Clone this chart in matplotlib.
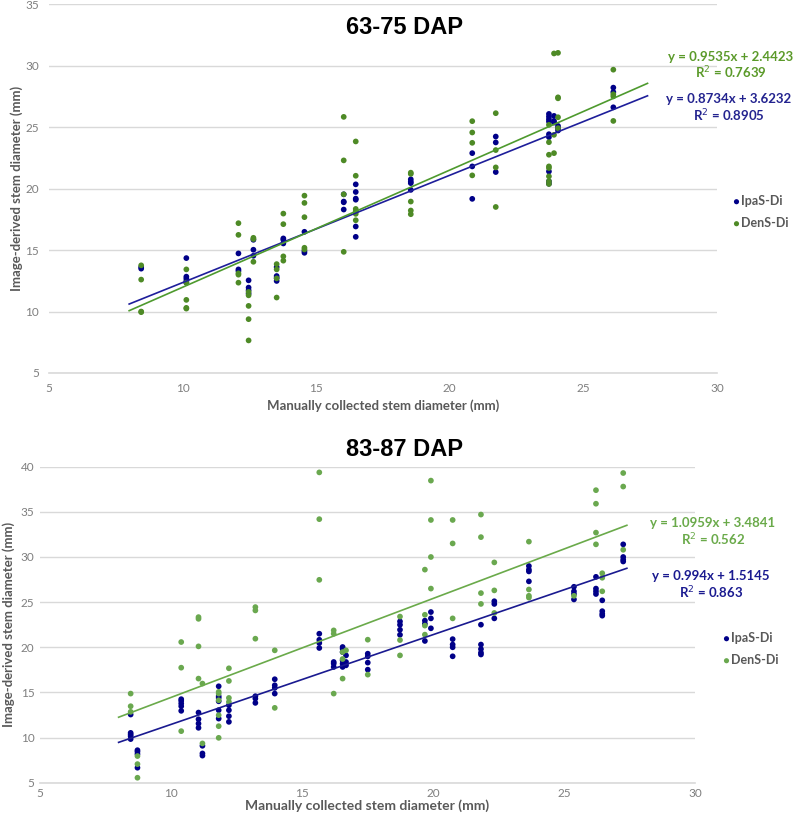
import matplotlib
matplotlib.use("Agg")
import matplotlib.pyplot as plt
import numpy as np

# ---- data: panel 1 (63-75 DAP) ----
top_x = [8.45, 10.14, 12.09, 12.47, 12.65, 13.52, 13.77, 14.56, 16.03, 16.48,
         18.54, 20.84, 21.72, 23.71, 23.9, 24.05, 26.12]
top_ipas = [
  [13.62, 13.49],
  [14.35, 12.84, 12.68, 12.49, 12.35],
  [14.73, 13.43, 13.3],
  [12.54, 11.95, 11.73, 11.46],
  [15.84, 15.03, 14.54],
  [13.62, 12.89, 12.73, 12.49],
  [15.95, 15.84, 15.54],
  [16.49, 14.92, 14.78],
  [19.54, 18.95, 18.89, 18.3],
  [20.35, 19.73, 19.19, 19.1, 16.92, 16.08],
  [20.76, 20.57, 20.45, 19.9],
  [22.89, 21.81, 19.17],
  [24.24, 23.76, 21.35],
  [26.08, 25.86, 25.65, 25.46, 24.43, 24.19, 21.4, 20.6, 20.4],
  [25.92, 25.51, 25.38],
  [25.1, 24.92, 24.73],
  [28.22, 27.86, 26.62],
]
top_dens = [
  [13.76, 12.6, 10.0, 9.95],
  [13.43, 12.35, 10.95, 10.3, 10.24],
  [17.19, 16.24, 13.11, 13.0, 12.35],
  [11.6, 11.32, 10.46, 9.38, 7.65],
  [16.0, 15.9, 14.05],
  [13.86, 13.43, 12.7, 11.14],
  [17.97, 17.11, 14.49, 14.14],
  [19.43, 18.84, 17.68, 15.19, 15.05],
  [25.84, 22.3, 19.54, 14.86],
  [23.84, 21.05, 18.35, 18.16, 17.95, 17.43],
  [21.3, 21.2, 18.95, 18.22, 17.92],
  [25.49, 24.57, 23.73, 21.08],
  [26.14, 23.14, 21.73, 18.51],
  [25.19, 23.78, 22.76, 21.81, 21.68, 21.0, 20.6, 20.38],
  [31.0, 24.38, 22.89],
  [31.05, 27.43, 27.35, 25.81, 24.92],
  [29.68, 27.68, 27.51, 25.51],
]
top_fit_ipas = (0.8734, 3.6232)
top_fit_dens = (0.9535, 2.4423)

# ---- data: panel 2 (83-87 DAP) ----
bot_x = [8.46, 8.72, 10.39, 11.05, 11.2, 11.82, 12.21, 13.22, 13.96, 15.66,
         16.21, 16.55, 16.68, 17.51, 18.74, 19.69, 19.92, 20.75, 21.83, 22.34,
         23.66, 25.38, 26.22, 26.46, 27.26]
bot_ipas = [
  [12.55, 10.52, 10.34, 10.16, 9.83],
  [8.6, 8.43, 8.17, 6.66],
  [14.25, 14.06, 13.77, 13.47, 12.96],
  [12.77, 12.03, 11.55, 11.08],
  [9.09, 8.24, 8.0],
  [15.68, 14.58, 14.39, 14.02, 13.03, 12.1],
  [13.58, 13.03, 12.37, 11.74],
  [14.58, 14.32, 13.84],
  [16.46, 15.79, 15.5, 14.87],
  [21.5, 20.83, 20.47, 19.92],
  [18.37, 18.19, 17.82],
  [20.03, 19.84, 19.47, 18.55, 18.19, 17.82],
  [19.1, 18.37, 18.0],
  [19.29, 18.99, 18.3, 17.52],
  [22.86, 22.49, 21.94, 21.38],
  [22.95, 22.6, 20.7],
  [23.9, 23.2, 22.1],
  [20.9, 20.3, 20.0, 19.0],
  [22.5, 20.3, 19.8, 19.4, 19.2],
  [25.1, 24.8, 23.2],
  [29.0, 28.6, 28.4, 27.3],
  [26.7, 26.2, 25.9, 25.3],
  [27.8, 26.5, 26.2, 25.9],
  [25.2, 24.0, 23.7, 23.5],
  [31.4, 30.0, 29.7, 29.5],
]
bot_dens = [
  [14.87, 13.47, 12.85],
  [7.95, 7.06, 5.55],
  [20.58, 17.74, 10.71],
  [23.34, 23.15, 20.1, 16.53],
  [15.98, 9.35],
  [15.06, 14.87, 14.13, 12.48, 11.26, 9.97],
  [17.67, 16.27, 14.39, 13.95],
  [24.45, 24.08, 20.95],
  [19.66, 13.29],
  [39.37, 34.19, 27.47],
  [21.87, 21.5, 14.87],
  [19.47, 18.7, 16.53],
  [19.66],
  [20.84, 16.97],
  [23.4, 20.8, 19.1],
  [28.6, 23.6, 22.4, 21.4],
  [38.46, 34.1, 30.0, 26.5],
  [34.1, 31.5, 23.2],
  [34.7, 32.2, 26.0, 24.8],
  [29.4, 26.3, 23.8],
  [31.7, 26.4, 25.7, 25.5],
  [25.7],
  [37.4, 35.9, 32.7, 31.4],
  [28.2, 27.7, 26.2],
  [39.3, 37.8, 30.8],
]
bot_fit_ipas = (0.994, 1.5145)
bot_fit_dens = (1.0959, 3.4841)

fit_range = [8.0, 27.4]

W, H = 793, 816
navy = "#000088"
tick_gray = "#7f7f7f"
label_gray = "#595959"
grid_gray = "#d9d9d9"


def flatten(xs, groups):
  px, py = [], []
  for x, ys in zip(xs, groups):
    for y in ys:
      px.append(x)
      py.append(y)
  return px, py


def fx(px):
  return px / W


def fy(py):
  return 1 - py / H


def panel(rect, xs, ipas, dens, fit_i, fit_d, ylim, green, green_line, blue_line):
  ax = fig.add_axes(rect)
  x1, y1 = flatten(xs, ipas)
  x2, y2 = flatten(xs, dens)
  ax.scatter(x1, y1, s=17, color=navy, edgecolors='none', zorder=3, label='IpaS-Di')
  ax.scatter(x2, y2, s=17, color=green, edgecolors='none', zorder=3, label='DenS-Di')
  xr = np.array(fit_range)
  ax.plot(xr, fit_i[0] * xr + fit_i[1], color=blue_line, lw=1.2, zorder=4)
  ax.plot(xr, fit_d[0] * xr + fit_d[1], color=green_line, lw=1.2, zorder=4)
  ax.set_xlim(5, 30)
  ax.set_ylim(*ylim)
  ax.set_xticks(range(5, 31, 5))
  ax.set_yticks(range(ylim[0], ylim[1] + 1, 5))
  ax.grid(axis='y', color=grid_gray, lw=1)
  ax.set_axisbelow(True)
  for s in ['top', 'right', 'left']:
    ax.spines[s].set_visible(False)
  ax.spines['bottom'].set_color(grid_gray)
  ax.spines['bottom'].set_linewidth(1.2)
  ax.tick_params(length=0, labelsize=8.5, labelcolor=tick_gray, pad=7)
  for t in ax.get_xticklabels() + ax.get_yticklabels():
    t.set_family('Lato')
  return ax


def add_legend(ax, x, y):
  ax.legend(loc='center left', bbox_to_anchor=(fx(x), fy(y)), bbox_transform=fig.transFigure,
            frameon=False, handlelength=0.4, handletextpad=0.2, labelspacing=0.8,
            borderpad=0, borderaxespad=0, prop={'family': 'Lato', 'weight': 'bold', 'size': 9},
            labelcolor=label_gray, markerscale=0.9)


fig = plt.figure(figsize=(W / 100, H / 100), dpi=100)

# top panel
ax1 = panel([fx(49), fy(373), (717 - 49) / W, (373 - 4.3) / H],
            top_x, top_ipas, top_dens, top_fit_ipas, top_fit_dens, (5, 35),
            "#4E8A26", "#4E9A2E", "#1E1E9A")
ax1.set_xlabel("Manually collected stem diameter (mm)", family='Lato', weight='bold',
               color=label_gray, fontsize=9.5, labelpad=4)
ax1.set_ylabel("Image-derived stem diameter (mm)", family='Lato', weight='bold',
               color=label_gray, fontsize=9.5, labelpad=2)
fig.text(fx(404), fy(27), "63-75 DAP", family='Liberation Sans', weight='bold',
         fontsize=17, ha='center', va='center')
fig.text(fx(731), fy(57), "y = 0.9535x + 2.4423", family='Lato', weight='bold',
         fontsize=9.5, color="#5B9A2A", ha='center', va='center')
fig.text(fx(731), fy(73), "R$^2$ = 0.7639", family='Lato', weight='bold',
         fontsize=9.5, color="#5B9A2A", ha='center', va='center')
fig.text(fx(729), fy(99), "y = 0.8734x + 3.6232", family='Lato', weight='bold',
         fontsize=9.5, color="#23238F", ha='center', va='center')
fig.text(fx(729), fy(116), "R$^2$ = 0.8905", family='Lato', weight='bold',
         fontsize=9.5, color="#23238F", ha='center', va='center')
add_legend(ax1, 734, 212)

# bottom panel
ax2 = panel([fx(40), fy(782.7), (695 - 40) / W, (782.7 - 466.7) / H],
            bot_x, bot_ipas, bot_dens, bot_fit_ipas, bot_fit_dens, (5, 40),
            "#6AA84F", "#6AAA4A", "#1A1A90")
ax2.set_xlabel("Manually collected stem diameter (mm)", family='Lato', weight='bold',
               color=label_gray, fontsize=10, labelpad=0)
ax2.set_ylabel("Image-derived stem diameter (mm)", family='Lato', weight='bold',
               color=label_gray, fontsize=9.5, labelpad=4)
ax2.tick_params(pad=4)
fig.text(fx(404), fy(449), "83-87 DAP", family='Liberation Sans', weight='bold',
         fontsize=17, ha='center', va='center')
fig.text(fx(713), fy(523), "y = 1.0959x + 3.4841", family='Lato', weight='bold',
         fontsize=9.5, color="#6AAA4A", ha='center', va='center')
fig.text(fx(713), fy(540), "R$^2$ = 0.562", family='Lato', weight='bold',
         fontsize=9.5, color="#6AAA4A", ha='center', va='center')
fig.text(fx(711), fy(576), "y = 0.994x + 1.5145", family='Lato', weight='bold',
         fontsize=9.5, color="#1A1A90", ha='center', va='center')
fig.text(fx(711), fy(593), "R$^2$ = 0.863", family='Lato', weight='bold',
         fontsize=9.5, color="#1A1A90", ha='center', va='center')
add_legend(ax2, 724, 649)

fig.savefig("out.png", dpi=100)
